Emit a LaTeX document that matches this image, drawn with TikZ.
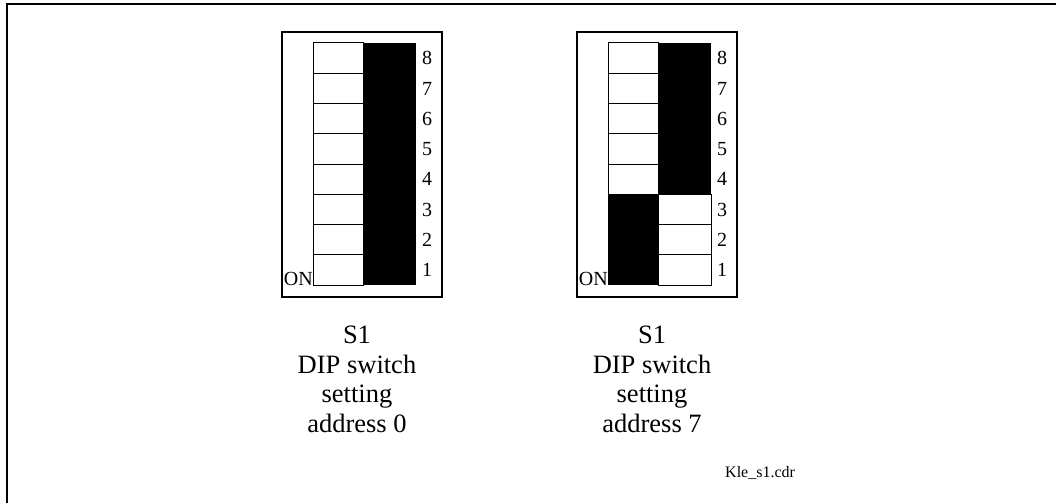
\documentclass[tikz,border=0pt]{standalone}
\usepackage{fontspec}
\setmainfont{Liberation Serif}

\begin{document}
\begin{tikzpicture}[x=1pt,y=-1pt,
    frame/.style={line width=2pt},
    housing/.style={line width=1.5pt},
    cell/.style={draw, line width=1pt, fill=white},
    num/.style={inner sep=0pt, font=\fontsize{20}{20}\selectfont},
    caption/.style={align=center, inner sep=0pt, font=\fontsize{26.5}{29.5}\selectfont}]

    \useasboundingbox (0,0) rectangle (1056,503);

    % Outer frame
    \draw[frame] (7,503) -- (7,4) -- (1056,4);

    % Switch S1 set to address 0
    \begin{scope}
        \draw[housing] (282,32) rectangle (442,297);
        \foreach \n in {1,...,8} {
            \fill (363,{285-\n*30.25}) rectangle (416,{285-(\n-1)*30.25});
            \draw[cell] (313,{285-\n*30.25}) rectangle (363,{285-(\n-1)*30.25});
            \node[num] (a\n) at (427,{270-(\n-1)*30.25}) {\n};
        }
        \node[num, anchor=base east] (onA) at (313,285) {ON};
    \end{scope}

    % Switch S1 set to address 7
    \begin{scope}[xshift=295pt]
        \draw[housing] (282,32) rectangle (442,297);
        \foreach \n in {1,...,8} {
            \ifnum\n<4
                \fill (313,{285-\n*30.25}) rectangle (363,{285-(\n-1)*30.25});
                \draw[cell] (363,{285-\n*30.25}) rectangle (416,{285-(\n-1)*30.25});
            \else
                \fill (363,{285-\n*30.25}) rectangle (416,{285-(\n-1)*30.25});
                \draw[cell] (313,{285-\n*30.25}) rectangle (363,{285-(\n-1)*30.25});
            \fi
            \node[num] (b\n) at (427,{270-(\n-1)*30.25}) {\n};
        }
        \node[num, anchor=base east] (onB) at (313,285) {ON};
    \end{scope}

    % Captions
    \node[caption, anchor=north] (capA) at (357,326) {S1\\DIP switch\\setting\\address 0};
    \node[caption, anchor=north] (capB) at (652,326) {S1\\DIP switch\\setting\\address 7};

    \node[inner sep=0pt, anchor=base west, font=\fontsize{16}{16}\selectfont] (fname) at (725,477) {Kle\_s1.cdr};

\end{tikzpicture}
\end{document}
